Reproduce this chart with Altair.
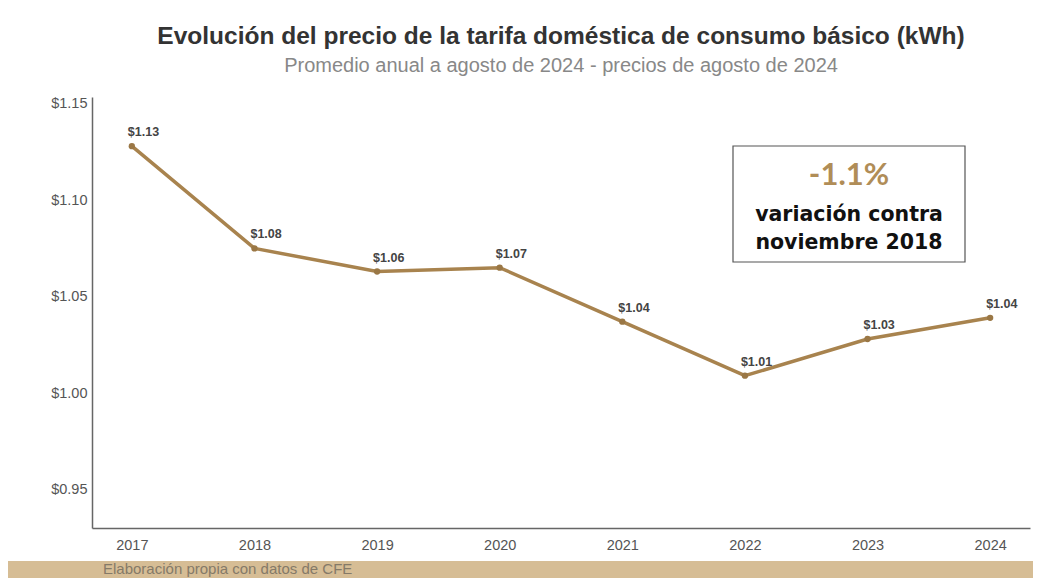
import altair as alt
import pandas as pd

years = ["2017", "2018", "2019", "2020", "2021", "2022", "2023", "2024"]
prices = [1.128, 1.075, 1.063, 1.065, 1.037, 1.009, 1.028, 1.039]
labels = ["$1.13", "$1.08", "$1.06", "$1.07", "$1.04", "$1.01", "$1.03", "$1.04"]
y_ticks = [0.95, 1.00, 1.05, 1.10, 1.15]

df = pd.DataFrame({"year": years, "price": prices, "label": labels})

LINE = "#a8834e"
W, H = 938, 431

x = alt.X("year:O", scale=alt.Scale(type="point", padding=0.325),
          axis=alt.Axis(title=None, labelAngle=0, ticks=False, domainColor="#666666",
                        domainWidth=1.5, labelColor="#555555", labelFontSize=14.5,
                        labelFont="Liberation Sans", labelPadding=10, grid=False))
y = alt.Y("price:Q", scale=alt.Scale(domain=[0.93, 1.1535], nice=False, zero=False),
          axis=alt.Axis(title=None, values=y_ticks, format="$.2f", ticks=False,
                        domainColor="#666666", domainWidth=1.5, labelColor="#555555",
                        labelFontSize=14.5, labelFont="Liberation Sans", labelPadding=5,
                        grid=False))

base = alt.Chart(df)
line = base.mark_line(color=LINE, strokeWidth=3.5).encode(x=x, y=y)
pts = base.mark_circle(color="#9a7745", size=40, opacity=1).encode(x=x, y=y)
txt = base.mark_text(align="left", baseline="middle", dx=-4, dy=-14, fontSize=12.5,
                     fontWeight="bold", color="#444444", font="Liberation Sans").encode(
    x=x, y=y, text="label:N")

one = df.head(1)
box = alt.Chart(one).mark_rect(fill="white", stroke="#555555", strokeWidth=1.2).encode(
    x=alt.value(641), x2=alt.value(873), y=alt.value(49), y2=alt.value(165))
pct = alt.Chart(one).mark_text(text="-1.1%", fontSize=31, color="#b08d57",
                               font="Lato", fontWeight="bold").encode(
    x=alt.value(757), y=alt.value(79))
t1 = alt.Chart(one).mark_text(text="variación contra", fontSize=20.5, color="#111111",
                              font="DejaVu Sans", fontWeight="bold").encode(
    x=alt.value(757), y=alt.value(118))
t2 = alt.Chart(one).mark_text(text="noviembre 2018", fontSize=20.5, color="#111111",
                              font="DejaVu Sans", fontWeight="bold").encode(
    x=alt.value(757), y=alt.value(146))

band = alt.Chart(one).mark_rect(fill="#cfb283", opacity=0.85).encode(
    x=alt.value(-84), x2=alt.value(W + 3), y=alt.value(H + 33), y2=alt.value(H + 50))
foot = alt.Chart(one).mark_text(text="Elaboración propia con datos de CFE", align="left",
                                fontSize=15, color="#857a68", font="Liberation Sans").encode(
    x=alt.value(11), y=alt.value(H + 41))

chart = alt.layer(band, foot, line, pts, txt, box, pct, t1, t2).properties(
    width=W, height=H,
    background="white",
    autosize=alt.AutoSizeParams(type="none"),
    padding={"left": 84, "top": 89, "right": 3, "bottom": 50},
    title=alt.TitleParams(
        text="Evolución del precio de la tarifa doméstica de consumo básico (kWh)",
        subtitle="Promedio anual a agosto de 2024 - precios de agosto de 2024",
        anchor="middle", font="Liberation Sans", fontSize=24.5, fontWeight="bold",
        color="#333333", subtitleFont="Liberation Sans", subtitleFontSize=20,
        subtitleColor="#888888", subtitlePadding=6, offset=19),
).configure_view(strokeWidth=0, stroke=None)

chart.save("out.html", embed_options={"renderer": "svg", "actions": False})
